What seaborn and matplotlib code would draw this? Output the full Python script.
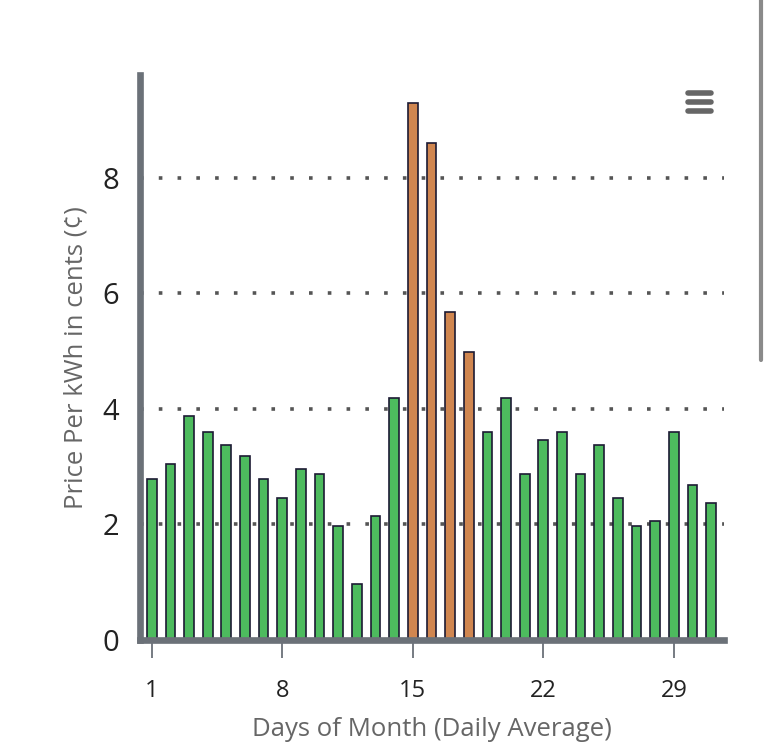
import matplotlib
matplotlib.use("Agg")
import matplotlib.pyplot as plt
from matplotlib.lines import Line2D
import pandas as pd
import seaborn as sns

# daily average price per kWh (cents)
days = list(range(1, 32))
prices = [
    2.78, 3.05, 3.87, 3.59, 3.37, 3.18, 2.78, 2.46, 2.96, 2.87,
    1.97, 0.96, 2.15, 4.18, 9.30, 8.61, 5.67, 4.99, 3.59, 4.18,
    2.87, 3.46, 3.59, 2.87, 3.37, 2.46, 1.97, 2.06, 3.59, 2.68, 2.37,
]
peak_days = [15, 16, 17, 18]
x_ticks = [1, 8, 15, 22, 29]
y_ticks = [0, 2, 4, 6, 8]

GREEN = "#4dbb5e"
ORANGE = "#d08650"
EDGE = "#1c1a33"
SPINE = "#6b7178"

df = pd.DataFrame({"day": days, "price": prices})
df["peak"] = df["day"].isin(peak_days).map({True: "peak", False: "normal"})

sns.set_theme(style="white")
plt.rcParams["font.family"] = ["Open Sans", "DejaVu Sans"]

fig = plt.figure(figsize=(7.68, 7.5), dpi=100)
ax = fig.add_axes([0.182, 0.147, 0.761, 0.753])

sns.barplot(
    data=df,
    x="day",
    y="price",
    hue="peak",
    palette={"normal": GREEN, "peak": ORANGE},
    saturation=1,
    native_scale=True,
    dodge=False,
    width=0.52,
    edgecolor=EDGE,
    linewidth=1.2,
    legend=False,
    ax=ax,
)

ax.set_xlim(0.36, 31.7)
ax.set_ylim(0, 9.78)
ax.set_xticks(x_ticks)
ax.set_xticklabels([str(d) for d in x_ticks])
ax.set_yticks(y_ticks)

ax.set_axisbelow(True)
ax.yaxis.grid(True, color="#555555", linestyle=(0, (1, 4.2)), linewidth=2.6)
ax.xaxis.grid(False)

for side in ("top", "right"):
    ax.spines[side].set_visible(False)
for side in ("left", "bottom"):
    ax.spines[side].set_color(SPINE)
    ax.spines[side].set_linewidth(4.8)

ax.tick_params(axis="y", length=0, pad=15, labelsize=21, labelcolor="#222222")
ax.tick_params(axis="x", length=13, width=1.3, color=SPINE, pad=15,
               labelsize=17, labelcolor="#222222", direction="out")
ax.xaxis.set_ticks_position("bottom")

ax.set_xlabel("Days of Month (Daily Average)", fontsize=18.5, color="#666666", labelpad=10)
ax.set_ylabel("Price Per kWh in cents (¢)", fontsize=18.5, color="#666666", labelpad=10)

# hamburger menu icon and page scrollbar
for y in (0.852, 0.864, 0.876):
    fig.add_artist(Line2D([0.896, 0.926], [y, y], color="#666666", linewidth=4,
                          solid_capstyle="round", transform=fig.transFigure))
fig.add_artist(Line2D([0.991, 0.991], [1.0, 0.52], color="#8a8a8a", linewidth=3,
                      solid_capstyle="round", transform=fig.transFigure))

fig.savefig("out.png", dpi=100, facecolor="white")
